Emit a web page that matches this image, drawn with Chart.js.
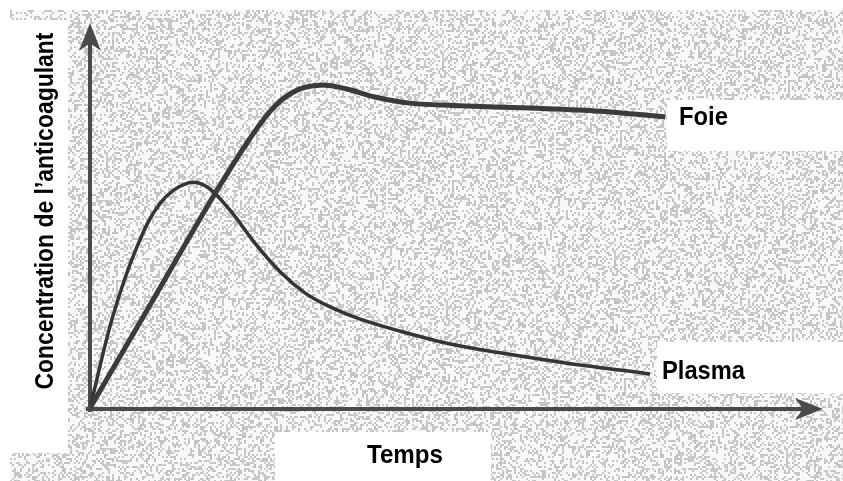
<!DOCTYPE html>
<html>
<head>
<meta charset="utf-8">
<script src="https://cdn.jsdelivr.net/npm/chart.js@4"></script>
<style>
  html, body { margin: 0; padding: 0; background: #fff; }
  #wrap { width: 843px; height: 481px; }
</style>
</head>
<body>
<div id="wrap"><canvas id="chart" width="843" height="481"></canvas></div>
<script>
// Time (arbitrary units, 0-100) and concentration (arbitrary units, 0-100)
const foieTime = [0, 8.2, 16.8, 21.9, 25.3, 28.3, 31.4, 35.1, 38.9, 43.7, 50.5, 60.1, 69.7, 78.6];
const foieConc = [0, 26.9, 55.1, 70.5, 78.9, 83.0, 84.3, 83.3, 81.2, 79.6, 78.9, 78.3, 77.5, 76.0];

const plasmaTime = [0, 3.1, 6.4, 9.6, 13.3, 16.0, 19.1, 22.5, 26.0, 29.4, 32.8, 36.9, 42.3, 49.2, 56.0, 65.2, 76.5];
const plasmaConc = [0, 23.8, 42.0, 53.5, 58.7, 57.7, 51.7, 43.1, 35.5, 30.0, 26.4, 23.2, 20.1, 16.7, 14.4, 11.7, 8.9];

const seriesNames = ['Foie', 'Plasma'];
const xTitle = 'Temps';
const yTitle = 'Concentration de l\u2019anticoagulant';

const toPoints = (xs, ys) => xs.map((x, i) => ({ x: x, y: ys[i] }));

// speckled paper background, built once
let paper = null;
function buildPaper(w, h) {
    const c = document.createElement('canvas');
    c.width = w; c.height = h;
    const g = c.getContext('2d');
    const img = g.createImageData(w, h);
    let seed = 12345;
    const rnd = () => { seed = (seed * 1103515245 + 12345) & 0x7fffffff; return seed / 0x7fffffff; };
    const bw = Math.ceil(w / 2), bh = Math.ceil(h / 2);
    const cells = new Float32Array(bw * bh);
    for (let i = 0; i < cells.length; i++) cells[i] = rnd();
    for (let y = 0; y < h; y++) {
        for (let x = 0; x < w; x++) {
            const v = cells[(y >> 1) * bw + (x >> 1)];
            const shade = v < 0.36 ? 192 + Math.floor(v * 40) : 248;
            const k = (y * w + x) * 4;
            img.data[k] = img.data[k + 1] = img.data[k + 2] = shade;
            img.data[k + 3] = 255;
        }
    }
    g.putImageData(img, 0, 0);
    return c;
}

const backgroundPlugin = {
    id: 'paper',
    beforeDraw(chart) {
        const ctx = chart.ctx;
        const w = chart.width, h = chart.height;
        if (!paper) paper = buildPaper(w, h);
        ctx.save();
        ctx.fillStyle = '#fff';
        ctx.fillRect(0, 0, w, h);
        ctx.drawImage(paper, 10, 10, w - 10, h - 10, 10, 10, w - 10, h - 10);
        // white label boxes
        ctx.fillStyle = '#fff';
        ctx.fillRect(0, 20, 68, 433);
        ctx.fillRect(667, 100, w - 667, 51);
        ctx.fillRect(657, 342, w - 657, 51);
        ctx.fillRect(275, 432, 216, h - 432);
        ctx.restore();
    }
};

function arrowHead(ctx, tx, ty, dx, dy) {
    // dx,dy: unit direction of the arrow
    const len = 28, half = 11, notch = 20;
    const px = -dy, py = dx;
    ctx.beginPath();
    ctx.moveTo(tx, ty);
    ctx.lineTo(tx - dx * len + px * half, ty - dy * len + py * half);
    ctx.lineTo(tx - dx * notch, ty - dy * notch);
    ctx.lineTo(tx - dx * len - px * half, ty - dy * len - py * half);
    ctx.closePath();
    ctx.fill();
}

const axesPlugin = {
    id: 'arrowAxes',
    beforeDatasetsDraw(chart) {
        const ctx = chart.ctx;
        const xs = chart.scales.x, ys = chart.scales.y;
        const x0 = xs.getPixelForValue(0), y0 = ys.getPixelForValue(0);
        const xEnd = xs.getPixelForValue(xs.max) + 1;
        const yEnd = ys.getPixelForValue(ys.max);
        ctx.save();
        ctx.strokeStyle = '#4a4a4a';
        ctx.fillStyle = '#4a4a4a';
        ctx.lineWidth = 4;
        ctx.lineCap = 'square';
        ctx.beginPath();
        ctx.moveTo(x0, y0 + 2);
        ctx.lineTo(x0, yEnd + 10);
        ctx.moveTo(x0 - 2, y0 + 1);
        ctx.lineTo(xEnd - 10, y0 + 1);
        ctx.stroke();
        arrowHead(ctx, x0, yEnd - 2, 0, -1);
        arrowHead(ctx, xEnd, y0 + 1, 1, 0);
        ctx.restore();
    }
};

const labelPlugin = {
    id: 'labels',
    afterDraw(chart) {
        const ctx = chart.ctx;
        ctx.save();
        ctx.fillStyle = '#000';
        ctx.font = 'bold 25px "Liberation Sans", Arial, sans-serif';
        ctx.textBaseline = 'alphabetic';
        ctx.textAlign = 'left';
        ctx.fillText(seriesNames[0], 679, 125, 49);
        ctx.fillText(seriesNames[1], 662, 379, 83);
        ctx.textAlign = 'center';
        ctx.fillText(xTitle, 405, 463, 76);
        ctx.translate(53, 211);
        ctx.rotate(-Math.PI / 2);
        ctx.fillText(yTitle, 0, 0, 357);
        ctx.restore();
    }
};

new Chart(document.getElementById('chart'), {
    type: 'line',
    data: {
        datasets: [
            {
                label: seriesNames[0],
                data: toPoints(foieTime, foieConc),
                borderColor: '#3b3b3b',
                borderWidth: 5,
                pointRadius: 0,
                tension: 0.35,
                fill: false
            },
            {
                label: seriesNames[1],
                data: toPoints(plasmaTime, plasmaConc),
                borderColor: '#353535',
                borderWidth: 3.5,
                pointRadius: 0,
                tension: 0.35,
                fill: false
            }
        ]
    },
    options: {
        responsive: false,
        animation: false,
        events: [],
        layout: { padding: { left: 90, right: 21, top: 25, bottom: 73 } },
        scales: {
            x: { type: 'linear', min: 0, max: 100, display: false },
            y: { type: 'linear', min: 0, max: 100, display: false }
        },
        plugins: {
            legend: { display: false },
            title: { display: false },
            tooltip: { enabled: false }
        }
    },
    plugins: [backgroundPlugin, axesPlugin, labelPlugin]
});
</script>
</body>
</html>
